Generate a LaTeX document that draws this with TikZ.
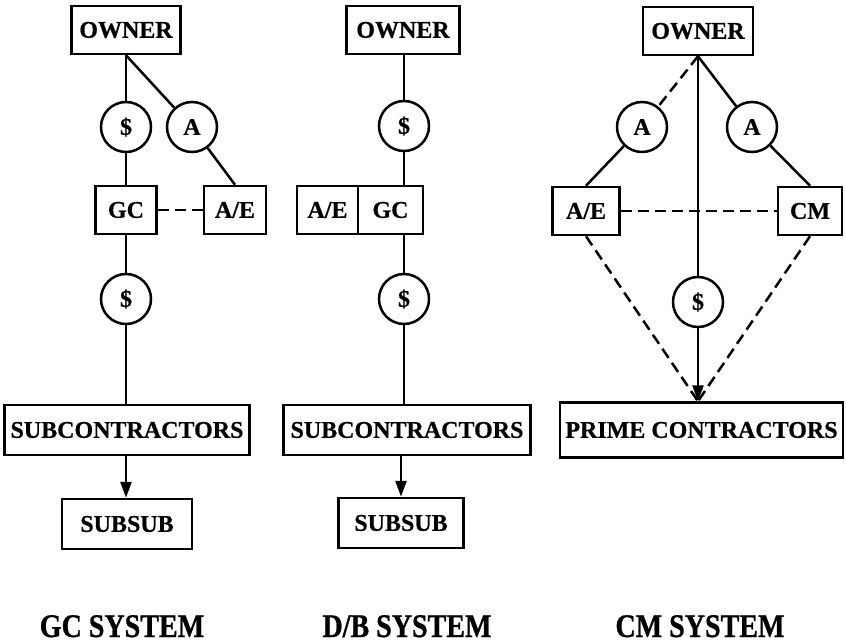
\documentclass[tikz,border=0pt]{standalone}
\usepackage{fontspec}
\setmainfont{Liberation Serif}
\newfontfamily\tagfont[UprightFont={* Bold}, FakeBold=0.6]{Liberation Serif}
\newfontfamily\capfont[UprightFont={* Bold}, FakeStretch=0.85, FakeBold=0.8]{Liberation Serif}
\usetikzlibrary{arrows.meta}

\tikzset{
  party/.style={draw, line width=2.5pt, inner sep=0pt, minimum height=48pt,
    font=\tagfont\fontsize{24}{24}\selectfont},
  tie/.style={draw, circle, line width=2.5pt, inner sep=0pt, minimum size=50pt,
    font=\tagfont\fontsize{24}{24}\selectfont},
  wire/.style={line width=2.5pt},
  loose/.style={wire, dash pattern=on 11pt off 6pt},
  feed/.style={wire, -{Triangle[length=16pt,width=11pt]}},
  system/.style={anchor=base, font=\capfont\fontsize{33}{33}\selectfont}
}

\begin{document}
\begin{tikzpicture}[x=1pt,y=-1pt]
\useasboundingbox (0,0) rectangle (846,644);

% GC system
\node[party, minimum width=109pt] (gcowner) at (126,30) {OWNER};
\node[tie] (gcpay) at (126,127) {\$};
\node[tie] (gcauth) at (192,127) {A};
\node[party, minimum width=61pt] (gcgc) at (126,210) {GC};
\node[party, minimum width=62pt] (gcae) at (235,210) {A/E};
\node[tie] (gcpaysub) at (126,299) {\$};
\node[party, minimum width=245pt, minimum height=50pt] (gcsub) at (127,430) {SUBCONTRACTORS};
\node[party, minimum width=130pt, minimum height=50pt] (gcsubsub) at (127,524) {SUBSUB};

\draw[wire] (gcowner.south) -- (gcpay.north);
\draw[wire] (gcowner.south) -- (gcauth);
\draw[wire] (gcauth) -- (gcae.north);
\draw[loose] (gcgc.east) -- (gcae.west);
\draw[wire] (gcpay.south) -- (gcgc.north);
\draw[wire] (gcgc.south) -- (gcpaysub.north);
\draw[wire] (gcpaysub.south) -- (gcpaysub.south |- gcsub.north);
\draw[feed] (gcpaysub.south |- gcsub.south) -- (gcpaysub.south |- gcsubsub.north);

% D/B system
\node[party, minimum width=113pt] (dbowner) at (403,30) {OWNER};
\node[tie] (dbpay) at (404,126) {\$};
\node[party, minimum width=61pt] (dbae) at (327.5,210) {A/E};
\node[party, minimum width=65pt] (dbgc) at (390.5,210) {GC};
\node[tie] (dbpaysub) at (404,299) {\$};
\node[party, minimum width=247pt, minimum height=50pt] (dbsub) at (407,430) {SUBCONTRACTORS};
\node[party, minimum width=125pt, minimum height=50pt] (dbsubsub) at (401,523) {SUBSUB};

\draw[wire] (dbpay.north |- dbowner.south) -- (dbpay.north);
\draw[wire] (dbpay.south) -- (dbpay.south |- dbgc.north);
\draw[wire] (dbpaysub.north |- dbgc.south) -- (dbpaysub.north);
\draw[wire] (dbpaysub.south) -- (dbpaysub.south |- dbsub.north);
\draw[feed] (dbsubsub.north |- dbsub.south) -- (dbsubsub.north);

% CM system
\node[party, minimum width=110pt] (cmowner) at (698,31) {OWNER};
\node[tie] (cmauthae) at (642,127) {A};
\node[tie] (cmauthcm) at (752,127) {A};
\node[party, minimum width=67pt] (cmae) at (586,211) {A/E};
\node[party, minimum width=64pt] (cmcm) at (810,211) {CM};
\node[tie] (cmpay) at (698,302) {\$};
\node[party, minimum width=283pt, minimum height=55pt] (cmprime) at (701.5,430) {PRIME CONTRACTORS};
\coordinate (cmtip) at (cmpay.south |- cmprime.north);

\draw[loose] (cmowner.south) -- (cmauthae);
\draw[wire] (cmauthae) -- (cmae.north);
\draw[wire] (cmowner.south) -- (cmauthcm);
\draw[wire] (cmauthcm) -- (cmcm.north);
\draw[loose] (cmae.east) -- (cmcm.west);
\draw[wire] (cmowner.south) -- (cmpay.north);
\draw[feed] (cmpay.south) -- (cmtip);
\draw[loose] (cmae.south) -- (cmtip);
\draw[loose] (cmcm.south) -- (cmtip);

% captions
\node[system] (gclabel) at (122,637) {GC SYSTEM};
\node[system] (dblabel) at (407,637) {D/B SYSTEM};
\node[system] (cmlabel) at (700,637) {CM SYSTEM};
\end{tikzpicture}
\end{document}
